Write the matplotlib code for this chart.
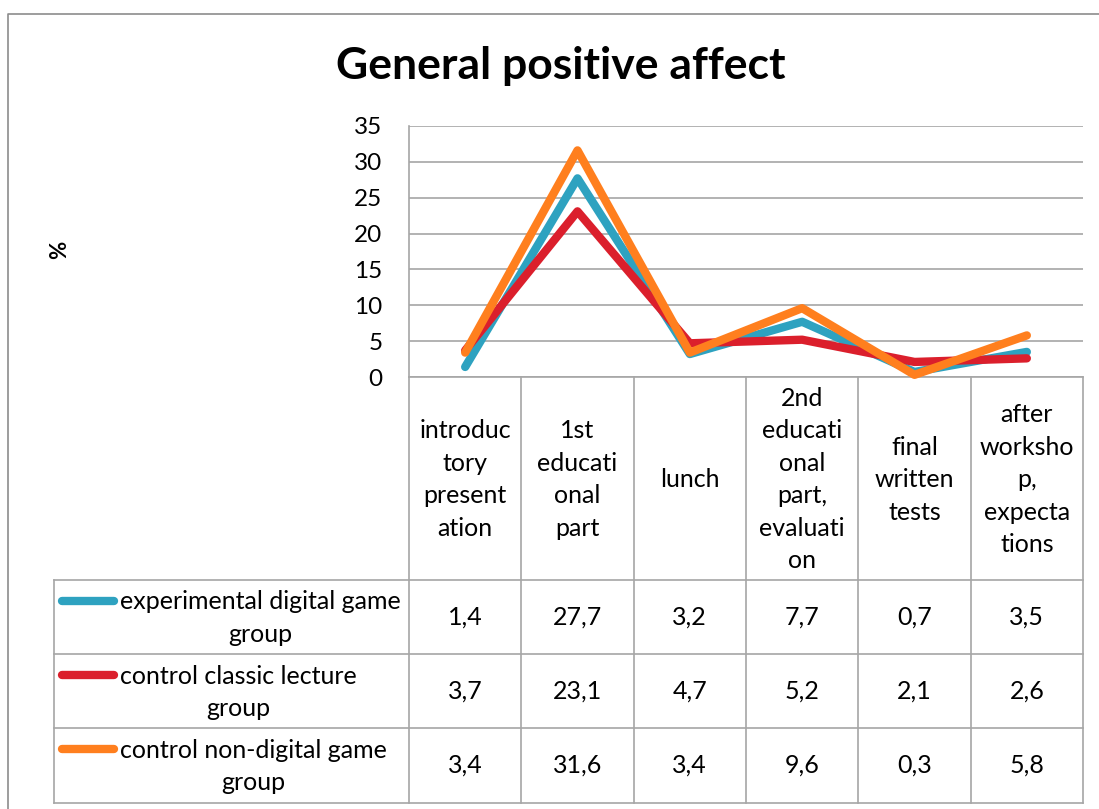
import matplotlib.pyplot as plt
from matplotlib.lines import Line2D

plt.rcParams["font.family"] = ["Lato", "DejaVu Sans"]

stages = ["introduc\ntory\npresent\nation", "1st\neducati\nonal\npart", "lunch",
          "2nd\neducati\nonal\npart,\nevaluati\non", "final\nwritten\ntests",
          "after\nworksho\np,\nexpecta\ntions"]
groups = ["experimental digital game\ngroup", "control classic lecture\ngroup",
          "control non-digital game\ngroup"]
experimental = [1.4, 27.7, 3.2, 7.7, 0.7, 3.5]
classic = [3.7, 23.1, 4.7, 5.2, 2.1, 2.6]
non_digital = [3.4, 31.6, 3.4, 9.6, 0.3, 5.8]
series = [experimental, classic, non_digital]
colors = ["#2ea2c0", "#db1f2c", "#ff7f1e"]
yticks = [0, 5, 10, 15, 20, 25, 30, 35]

W, H = 1099, 809
GRID = "#a6a6a6"
FS = 18

# layout in pixels
px0, px1 = 409, 1083          # plot / table columns
py_top, py_bot = 126, 377     # plot area
hdr_bot = 580                 # bottom of category header row
row_h = 74.2
lx0 = 54                      # left edge of legend column

fig = plt.figure(figsize=(W / 100, H / 100), dpi=100)

# overlay in pixel coordinates for frame and table
ov = fig.add_axes([0, 0, 1, 1])
ov.set_xlim(0, W)
ov.set_ylim(H, 0)
ov.axis("off")
ov.patch.set_visible(False)

ax = fig.add_axes([px0 / W, 1 - py_bot / H, (px1 - px0) / W, (py_bot - py_top) / H])
ax.patch.set_visible(False)

n = len(stages)
xs = [i + 0.5 for i in range(n)]
for vals, c in zip(series, colors):
    ax.plot(xs, vals, color=c, lw=6, solid_capstyle="round",
            solid_joinstyle="round", clip_on=False, zorder=3)

ax.set_xlim(0, n)
ax.set_ylim(0, 35)
ax.set_yticks(yticks)
ax.set_xticks([])
ax.yaxis.grid(True, color=GRID, lw=1.2)
ax.set_axisbelow(True)
for s in ["top", "right", "bottom"]:
    ax.spines[s].set_visible(False)
ax.spines["left"].set_color(GRID)
ax.spines["left"].set_linewidth(1.2)
ax.tick_params(axis="y", length=0, pad=19, labelsize=17.5)

# chart frame
ov.add_line(Line2D([8, 8, W + 5], [H + 5, 14, 14], color="#8c8c8c", lw=1.2))

ov.text(561, 66, "General positive affect", ha="center", va="center",
        fontsize=32, fontweight="bold")
ov.text(60, 250, "%", ha="center", va="center", rotation=90,
        fontsize=16, fontweight="bold")

# table grid
col_w = (px1 - px0) / n
cols = [px0 + i * col_w for i in range(n + 1)]
rows = [hdr_bot + i * row_h for i in range(len(groups) + 1)]
lk = dict(color=GRID, lw=1.2)
for x in cols:
    ov.add_line(Line2D([x, x], [py_bot, rows[-1]], **lk))
ov.add_line(Line2D([px0, px1], [py_bot, py_bot], **lk))
for y in rows:
    ov.add_line(Line2D([lx0, px1], [y, y], **lk))
ov.add_line(Line2D([lx0, lx0], [rows[0], rows[-1]], **lk))

for i, lab in enumerate(stages):
    ov.text(cols[i] + col_w / 2, (py_bot + hdr_bot) / 2 + 1, lab,
            ha="center", va="center", multialignment="center",
            fontsize=FS, linespacing=1.5)

for r, (name, vals, c) in enumerate(zip(groups, series, colors)):
    yc = (rows[r] + rows[r + 1]) / 2
    ov.add_line(Line2D([62, 114], [yc - 16.5, yc - 16.5], color=c, lw=6,
                       solid_capstyle="round"))
    ov.text(120, yc + 1, name, ha="left", va="center", multialignment="center",
            fontsize=FS, linespacing=1.5)
    for i, v in enumerate(vals):
        ov.text(cols[i] + col_w / 2, yc, f"{v:.1f}".replace(".", ","),
                ha="center", va="center", fontsize=FS)

fig.savefig("out.png", dpi=100, facecolor="white")
